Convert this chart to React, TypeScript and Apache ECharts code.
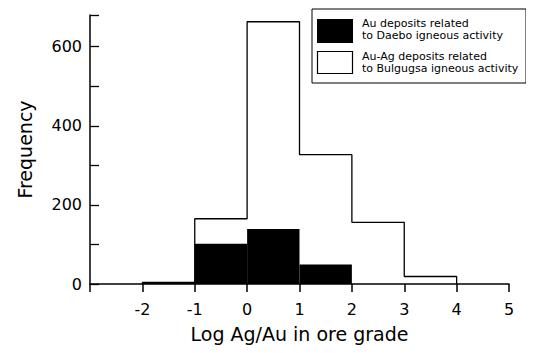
import React, { useEffect, useRef } from "react";
import * as echarts from "echarts";

// Bin edges (log Ag/Au) and frequencies
const binStarts = [-2, -1, 0, 1, 2, 3];
const binEnds = [-1, 0, 1, 2, 3, 4];
const daeboFreq = [4, 102, 139, 49, 0, 0];
const bulgugsaFreq = [4, 165, 663, 327, 156, 19];

const xTickValues = [-2, -1, 0, 1, 2, 3, 4, 5];
const yTickLabels = [0, 200, 400, 600];

const legendLabels = [
  "Au deposits related\nto Daebo igneous activity",
  "Au-Ag deposits related\nto Bulgugsa igneous activity",
];

const FONT = "DejaVu Sans";

export default function App() {
  const ref = useRef<HTMLDivElement>(null);

  useEffect(() => {
    if (!ref.current) return;
    const chart = echarts.init(ref.current, null, { renderer: "svg" });

    // step outline of the Bulgugsa histogram
    const outline: number[][] = [];
    binStarts.forEach((s, i) => {
      if (i === 0) outline.push([s, 0]);
      outline.push([s, bulgugsaFreq[i]]);
      outline.push([binEnds[i], bulgugsaFreq[i]]);
    });
    outline.push([binEnds[binEnds.length - 1], 0]);

    const blackBins = binStarts
      .map((s, i) => [s, binEnds[i], daeboFreq[i]])
      .filter((d) => d[2] > 0);

    const option: any = {
      animation: false,
      backgroundColor: "#fff",
      grid: { left: 90, right: 25, top: 15, bottom: 69 },
      xAxis: {
        type: "value",
        min: -3,
        max: 5,
        interval: 1,
        name: "Log Ag/Au in ore grade",
        nameLocation: "middle",
        nameGap: 40,
        nameTextStyle: { fontFamily: FONT, fontSize: 19, color: "#000" },
        axisLine: { show: true, onZero: false, lineStyle: { color: "#000", width: 1.5 } },
        axisTick: { show: true, inside: false, length: 8, lineStyle: { color: "#000", width: 1.5 } },
        axisLabel: {
          margin: 17,
          fontFamily: FONT,
          fontSize: 16,
          color: "#000",
          formatter: (v: number) => (xTickValues.indexOf(v) >= 0 ? String(v) : ""),
        },
        splitLine: { show: false },
      },
      yAxis: {
        type: "value",
        min: 0,
        max: 680,
        interval: 100,
        name: "Frequency",
        nameLocation: "middle",
        nameGap: 56,
        nameTextStyle: { fontFamily: FONT, fontSize: 19, color: "#000" },
        axisLine: { show: true, onZero: false, lineStyle: { color: "#000", width: 1.5 } },
        axisTick: { show: true, inside: true, length: 9, lineStyle: { color: "#000", width: 1.3 } },
        axisLabel: {
          margin: 8,
          fontFamily: FONT,
          fontSize: 16,
          color: "#000",
          formatter: (v: number) => (yTickLabels.indexOf(v) >= 0 ? String(v) : ""),
        },
        splitLine: { show: false },
      },
      series: [
        {
          type: "line",
          data: outline,
          symbol: "none",
          lineStyle: { color: "#000", width: 1.3 },
          z: 2,
        },
        {
          type: "custom",
          data: blackBins,
          encode: { x: [0, 1], y: 2 },
          z: 3,
          renderItem: (params: any, api: any) => {
            const p0 = api.coord([api.value(0), api.value(2)]);
            const p1 = api.coord([api.value(1), 0]);
            return {
              type: "rect",
              shape: { x: p0[0], y: p0[1], width: p1[0] - p0[0], height: p1[1] - p0[1] },
              style: { fill: "#000" },
            };
          },
        },
      ],
      graphic: [
        {
          type: "rect",
          shape: { x: 312, y: 9, width: 214, height: 74 },
          style: { fill: "#fff", stroke: "#000", lineWidth: 1 },
          z: 10,
        },
        {
          type: "rect",
          shape: { x: 317, y: 19, width: 36, height: 24 },
          style: { fill: "#000" },
          z: 11,
        },
        {
          type: "rect",
          shape: { x: 317.5, y: 51.5, width: 35, height: 22 },
          style: { fill: "#fff", stroke: "#000", lineWidth: 1.2 },
          z: 11,
        },
        {
          type: "text",
          x: 362,
          y: 29,
          style: {
            text: legendLabels[0],
            fontFamily: FONT,
            fontSize: 11,
            lineHeight: 12,
            fill: "#000",
            verticalAlign: "middle",
          },
          z: 11,
        },
        {
          type: "text",
          x: 362,
          y: 62,
          style: {
            text: legendLabels[1],
            fontFamily: FONT,
            fontSize: 11,
            lineHeight: 12,
            fill: "#000",
            verticalAlign: "middle",
          },
          z: 11,
        },
      ],
    };

    chart.setOption(option);
    return () => chart.dispose();
  }, []);

  return <div ref={ref} style={{ width: 534, height: 353, margin: -8 }} />;
}
